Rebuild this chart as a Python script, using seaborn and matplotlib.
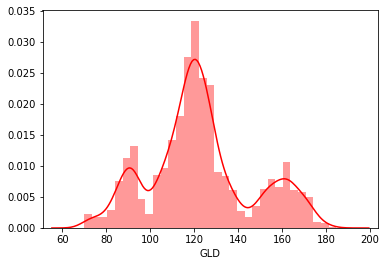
import numpy as np
import pandas as pd
import matplotlib
matplotlib.use("Agg")
import matplotlib.pyplot as plt
import seaborn as sns

# Histogram of GLD price (density), 33 equal bins between min and max
bin_start = 70.0
bin_end = 184.59
density = [
    0.00226, 0.00175, 0.00175, 0.00290, 0.00760, 0.01130, 0.01320, 0.00470,
    0.00226, 0.00860, 0.00970, 0.01420, 0.01810, 0.02760, 0.03340, 0.02425,
    0.02310, 0.00900, 0.00840, 0.00610, 0.00280, 0.00170, 0.00360, 0.00630,
    0.00790, 0.00660, 0.01070, 0.00610, 0.00580, 0.00500, 0.00100, 0.00085,
    0.00013,
]

edges = np.linspace(bin_start, bin_end, len(density) + 1)
centers = (edges[:-1] + edges[1:]) / 2
df = pd.DataFrame({"GLD": centers, "density": density})

fig = plt.figure(figsize=(387 / 72, 266 / 72), dpi=72)
ax = fig.add_axes([42.5 / 387, 38 / 266, (378.3 - 42.5) / 387, (228 - 10.3) / 266])

sns.histplot(data=df, x="GLD", weights="density", bins=len(density),
             binrange=(bin_start, bin_end), stat="density",
             color="red", alpha=0.4, linewidth=0, ax=ax)
sns.kdeplot(data=df, x="GLD", weights="density", bw_adjust=0.3, cut=3.3,
            color="red", linewidth=1.5, ax=ax)

ax.set_ylabel("")
ax.set_xlabel("GLD")
ax.set_xticks([60, 80, 100, 120, 140, 160, 180, 200])
ax.set_yticks([0.0, 0.005, 0.010, 0.015, 0.020, 0.025, 0.030, 0.035])
ax.yaxis.set_major_formatter(matplotlib.ticker.FormatStrFormatter("%.3f"))
ax.set_xlim(50.96, 203.7)
ax.set_ylim(0, 0.0351)

fig.savefig("out.png", dpi=72)
